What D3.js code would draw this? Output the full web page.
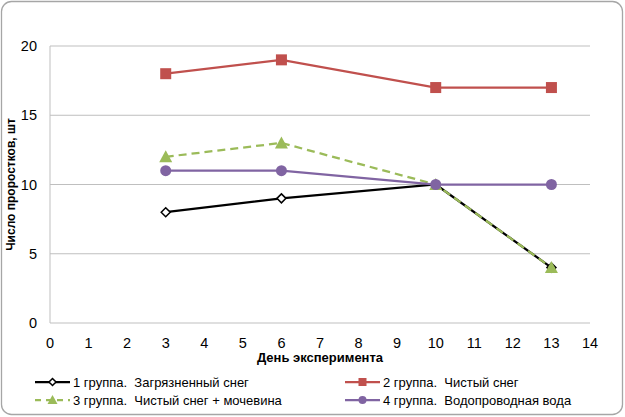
<!DOCTYPE html>
<html lang="ru">
<head>
<meta charset="UTF-8">
<title>Число проростков</title>
<style>
  body { margin: 0; background: #fff; font-family: "Liberation Sans", Arial, sans-serif; }
  svg { display: block; }
  .grid line { stroke: #bfbfbf; stroke-width: 1; }
  .tick-label { font-size: 14.5px; fill: #000; }
  .axis-title { font-size: 13px; font-weight: bold; fill: #000; }
  .axis-title.y { font-size: 12px; }
  .legend text { font-size: 13px; fill: #000; white-space: pre; }
</style>
</head>
<body>
<svg width="625" height="417"></svg>
<script src="https://d3js.org/d3.v7.min.js"></script>
<script>
  // data
  const days = [3, 6, 10, 13];
  const group1 = [8, 9, 10, 4];
  const group2 = [18, 19, 17, 17];
  const group3 = [12, 13, 10, 4];
  const group4 = [11, 11, 10, 10];
  const seriesNames = [
    '1 группа.  Загрязненный снег',
    '2 группа.  Чистый снег',
    '3 группа.  Чистый снег + мочевина',
    '4 группа.  Водопроводная вода'
  ];
  const xTicks = d3.range(0, 15, 1);
  const yTicks = [0, 5, 10, 15, 20];

  const series = [
    { name: seriesNames[0], values: group1, color: '#000000', marker: 'diamond', dash: null },
    { name: seriesNames[1], values: group2, color: '#c0504d', marker: 'square', dash: null },
    { name: seriesNames[2], values: group3, color: '#9bbb59', marker: 'triangle', dash: '8,5' },
    { name: seriesNames[3], values: group4, color: '#8064a2', marker: 'circle', dash: null }
  ];

  const svg = d3.select('svg');
  const x = d3.scaleLinear().domain([0, 14]).range([50, 590]);
  const y = d3.scaleLinear().domain([0, 20]).range([323, 46]);

  // outer frame
  svg.append('rect')
    .attr('x', 1.5).attr('y', 1.5).attr('width', 621).attr('height', 413)
    .attr('rx', 10).attr('ry', 10)
    .attr('fill', '#fff').attr('stroke', '#a6a6a6').attr('stroke-width', 1.3);

  // gridlines
  const grid = svg.append('g').attr('class', 'grid');
  grid.selectAll('line.h').data(yTicks).join('line')
    .attr('class', 'h')
    .attr('x1', x(0)).attr('x2', x(14))
    .attr('y1', d => y(d)).attr('y2', d => y(d));
  grid.append('line')
    .attr('x1', x(0)).attr('x2', x(0))
    .attr('y1', y(0)).attr('y2', y(20));

  // tick labels
  svg.append('g').selectAll('text').data(yTicks).join('text')
    .attr('class', 'tick-label')
    .attr('x', 37).attr('y', d => y(d)).attr('dy', '0.35em')
    .attr('text-anchor', 'end')
    .text(d => d);
  svg.append('g').selectAll('text').data(xTicks).join('text')
    .attr('class', 'tick-label')
    .attr('x', d => x(d)).attr('y', 343).attr('dy', '0.35em')
    .attr('text-anchor', 'middle')
    .text(d => d);

  // axis titles
  svg.append('text').attr('class', 'axis-title')
    .attr('x', 320).attr('y', 362).attr('text-anchor', 'middle')
    .text('День эксперимента');
  svg.append('text').attr('class', 'axis-title y')
    .attr('transform', `translate(15,${y(10)}) rotate(-90)`)
    .attr('text-anchor', 'middle')
    .text('Число проростков, шт');

  function drawMarker(g, type, color, size) {
    const s = size;
    if (type === 'diamond') {
      g.append('path').attr('d', `M0,${-s}L${s},0L0,${s}L${-s},0Z`)
        .attr('fill', '#fff').attr('stroke', color).attr('stroke-width', 1.5);
    } else if (type === 'square') {
      g.append('rect').attr('x', -s).attr('y', -s).attr('width', 2 * s).attr('height', 2 * s)
        .attr('fill', color);
    } else if (type === 'triangle') {
      g.append('path').attr('d', `M0,${-s - 1}L${s + 1},${s}L${-s - 1},${s}Z`)
        .attr('fill', color);
    } else {
      g.append('circle').attr('r', s).attr('fill', color);
    }
  }

  const line = d3.line().x((d, i) => x(days[i])).y(d => y(d));

  series.forEach(s => {
    const g = svg.append('g');
    g.append('path').datum(s.values)
      .attr('d', line)
      .attr('fill', 'none')
      .attr('stroke', s.color)
      .attr('stroke-width', 2.25)
      .attr('stroke-dasharray', s.dash);
    s.values.forEach((v, i) => {
      const m = g.append('g').attr('transform', `translate(${x(days[i])},${y(v)})`);
      drawMarker(m, s.marker, s.color, s.marker === 'diamond' ? 4.5 : 5.5);
    });
  });

  // legend
  const legendPos = [
    { x: 35, y: 382 }, { x: 345, y: 382 },
    { x: 35, y: 400 }, { x: 345, y: 400 }
  ];
  const legend = svg.append('g').attr('class', 'legend');
  series.forEach((s, i) => {
    const p = legendPos[i];
    const g = legend.append('g').attr('transform', `translate(${p.x},${p.y})`);
    g.append('line').attr('x1', 0).attr('x2', 35).attr('y1', 0).attr('y2', 0)
      .attr('stroke', s.color).attr('stroke-width', 2.25)
      .attr('stroke-dasharray', s.dash ? '6,5' : null);
    const m = g.append('g').attr('transform', 'translate(17.5,0)');
    drawMarker(m, s.marker, s.color, s.marker === 'diamond' ? 3.5 : 4);
    g.append('text').attr('x', 38).attr('y', 0).attr('dy', '0.35em').text(s.name);
  });
</script>
</body>
</html>
